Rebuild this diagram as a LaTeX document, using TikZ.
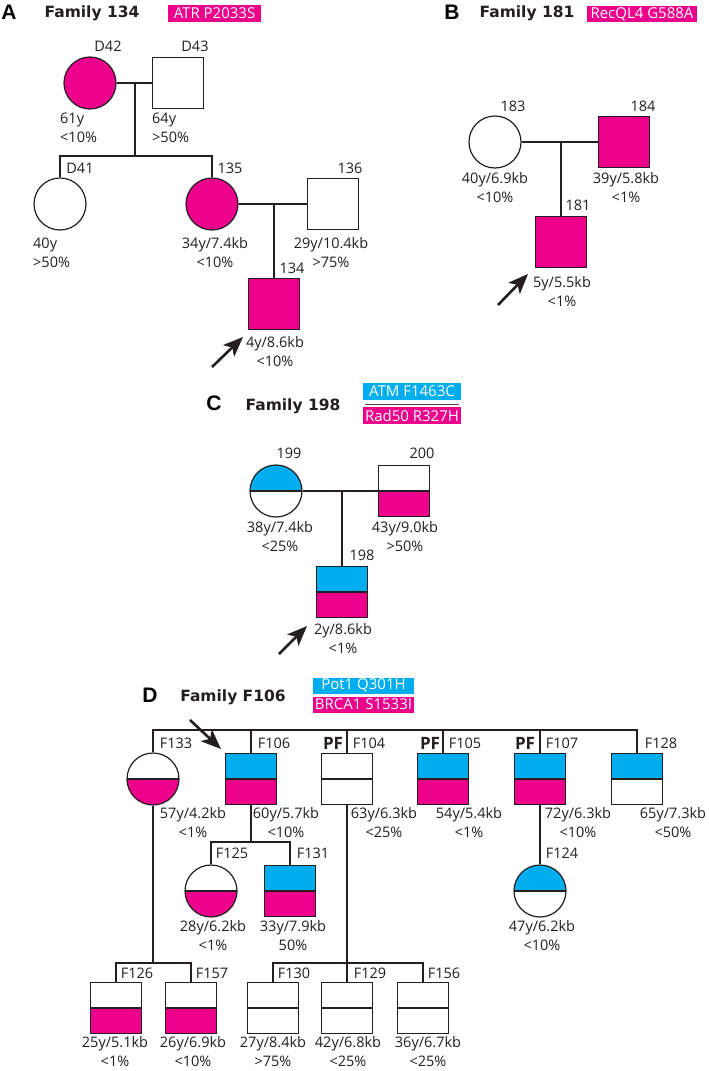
\documentclass[tikz,border=0pt]{standalone}
\usepackage{fontspec}
\setmainfont{Open Sans}
\newfontfamily\titlefont{DejaVu Sans}
\newfontfamily\letterfont{Liberation Sans}
\usetikzlibrary{arrows.meta}
\definecolor{mag}{HTML}{EC008C}
\definecolor{cya}{HTML}{00AEEF}
\definecolor{ink}{HTML}{231F20}
\begin{document}
\begin{tikzpicture}[x=1pt,y=-1pt,
 every node/.style={font=\fontsize{14.5}{19}\selectfont, text=ink, inner sep=0pt},
 conn/.style={draw=ink, line width=2.6pt},
 sqbase/.style={rectangle, draw=ink, line width=1.2pt, minimum size=51pt, fill=white},
 cibase/.style={circle, draw=ink, line width=1.2pt, minimum size=52pt, fill=white},
 full/.style={fill=mag},
 halves/.style 2 args={path picture={
   \fill[#1] (path picture bounding box.north west) rectangle (path picture bounding box.east);
   \fill[#2] (path picture bounding box.west) rectangle (path picture bounding box.south east);
   \draw[ink, line width=1.2pt] (path picture bounding box.west) -- (path picture bounding box.east);}},
 info/.style={align=center},
 infol/.style={align=left, anchor=west},
 pflab/.style={font=\fontsize{17}{17}\selectfont\bfseries},
 panel/.style={font=\fontsize{21}{21}\selectfont\letterfont\bfseries, text=black},
 title/.style={font=\fontsize{15.5}{15.5}\selectfont\titlefont\bfseries, text=ink},
 tag/.style={text=white, font=\fontsize{15}{15}\selectfont},
 proband/.style={draw=ink, line width=2.6pt, -{Stealth[length=20pt, width=16pt, inset=5pt]}}
]
\useasboundingbox[fill=white] (0,0) rectangle (709,1071);

% ---------------- Panel A ----------------
\node[panel] (letA) at (9,12) {A};
\node[title] (titA) at (92,13) {Family 134};
\node[tag, fill=mag, minimum width=93pt, minimum height=17pt] (tagA) at (214.5,13.5) {ATR P2033S};

\node[cibase, full] (D42) at (90,83) {};
\node[sqbase] (D43) at (178,83) {};
\node[cibase] (D41) at (60,204) {};
\node[cibase, full] (P135) at (212,204) {};
\node[sqbase] (P136) at (333,204) {};
\node[sqbase, full] (P134) at (274,304) {};

\node (lD42) at (108,46) {D42};
\node (lD43) at (195,46) {D43};
\node (lD41) at (80,168) {D41};
\node (l135) at (230,168) {135};
\node (l136) at (350,168) {136};
\node (l134) at (292,268) {134};

\node[infol] (iD42) at (60,127.5) {61y\\<10\%};
\node[infol] (iD43) at (152,127.5) {64y\\>50\%};
\node[infol] (iD41) at (33,252.5) {40y\\>50\%};
\node[info] (i135) at (215,252.5) {34y/7.4kb\\<10\%};
\node[info] (i136) at (331,252.5) {29y/10.4kb\\>75\%};
\node[info] (i134) at (275,351.5) {4y/8.6kb\\<10\%};

\coordinate (mA1) at (135,83);
\coordinate (sA1) at (135,156);
\coordinate (mA2) at (274,204);
\draw[conn] (D42) -- (D43);
\draw[conn] (mA1) -- (sA1);
\draw[conn] (D41.north) |- (sA1) -| (P135.north);
\draw[conn] (P135) -- (P136);
\draw[conn] (mA2) -- (P134.north);

\coordinate (aA0) at (212,367);
\coordinate (aA1) at (243,337);
\draw[proband] (aA0) -- (aA1);

% ---------------- Panel B ----------------
\node[panel] (letB) at (452,12) {B};
\node[title] (titB) at (527,13) {Family 181};
\node[tag, fill=mag, minimum width=110pt, minimum height=16pt] (tagB) at (642,14) {RecQL4 G588A};

\node[cibase] (P183) at (495,142) {};
\node[sqbase, full] (P184) at (624,142) {};
\node[sqbase, full] (P181) at (561,242) {};

\node (l183) at (513,106) {183};
\node (l184) at (643,106) {184};
\node (l181) at (578,205) {181};

\node[info] (i183) at (495,188) {40y/6.9kb\\<10\%};
\node[info] (i184) at (626,188) {39y/5.8kb\\<1\%};
\node[info] (i181) at (562,292) {5y/5.5kb\\<1\%};

\coordinate (mB) at (561,142);
\draw[conn] (P183) -- (P184);
\draw[conn] (mB) -- (P181.north);

\coordinate (aB0) at (498,305);
\coordinate (aB1) at (528,274);
\draw[proband] (aB0) -- (aB1);

% ---------------- Panel C ----------------
\node[panel] (letC) at (214,403.5) {C};
\node[title] (titC) at (293,406) {Family 198};
\node[tag, fill=cya, minimum width=98pt, minimum height=17pt] (tagC1) at (412,391.5) {ATM F1463C};
\node[tag, fill=mag, minimum width=98pt, minimum height=17pt] (tagC2) at (412,415.5) {Rad50 R327H};
\coordinate (sepC0) at (365,404.5);
\coordinate (sepC1) at (459,404.5);
\draw[ink!80, line width=1pt] (sepC0) -- (sepC1);

\node[cibase, halves={cya}{white}] (P199) at (276,491) {};
\node[sqbase, halves={white}{mag}] (P200) at (404,491) {};
\node[sqbase, halves={cya}{mag}] (P198) at (342,592) {};

\node (l199) at (289,453) {199};
\node (l200) at (422,453) {200};
\node (l198) at (362,555) {198};

\node[info] (i199) at (280,537) {38y/7.4kb\\<25\%};
\node[info] (i200) at (405,537) {43y/9.0kb\\>50\%};
\node[info] (i198) at (343,638.5) {2y/8.6kb\\<1\%};

\coordinate (mC) at (342,491);
\draw[conn] (P199) -- (P200);
\draw[conn] (mC) -- (P198.north);

\coordinate (aC0) at (279,654);
\coordinate (aC1) at (307,626);
\draw[proband] (aC0) -- (aC1);

% ---------------- Panel D ----------------
\node[panel] (letD) at (150,695) {D};
\node[title] (titD) at (233,697) {Family F106};
\node[tag, fill=cya, minimum width=101pt, minimum height=16pt] (tagD1) at (363.5,685.5) {Pot1 Q301H};
\node[tag, fill=mag, minimum width=101pt, minimum height=16pt] (tagD2) at (363.5,704.5) {BRCA1 S1533I};

\node[cibase, halves={white}{mag}] (F133) at (153,779) {};
\node[sqbase, halves={cya}{mag}] (F106) at (251,779) {};
\node[sqbase, halves={white}{white}] (F104) at (347,779) {};
\node[sqbase, halves={cya}{mag}] (F105) at (443,779) {};
\node[sqbase, halves={cya}{mag}] (F107) at (540,779) {};
\node[sqbase, halves={cya}{white}] (F128) at (637,779) {};

\node[cibase, halves={white}{mag}] (F125) at (211,891) {};
\node[sqbase, halves={cya}{mag}] (F131) at (290,891) {};
\node[cibase, halves={cya}{white}] (F124) at (540,891) {};

\node[sqbase, halves={white}{mag}] (F126) at (116,1008) {};
\node[sqbase, halves={white}{mag}] (F157) at (191,1008) {};
\node[sqbase, halves={white}{white}] (F130) at (273,1008) {};
\node[sqbase, halves={white}{white}] (F129) at (347,1008) {};
\node[sqbase, halves={white}{white}] (F156) at (423,1008) {};

\node (lF133) at (176,743) {F133};
\node (lF106) at (274,743) {F106};
\node[pflab] (pf104) at (333,743) {PF};
\node (lF104) at (369,743) {F104};
\node[pflab] (pf105) at (430,743) {PF};
\node (lF105) at (465,743) {F105};
\node[pflab] (pf107) at (525,743) {PF};
\node (lF107) at (562,743) {F107};
\node (lF128) at (661,743) {F128};
\node (lF125) at (232,853) {F125};
\node (lF131) at (313,853) {F131};
\node (lF124) at (562,853) {F124};
\node (lF126) at (137,973) {F126};
\node (lF157) at (212,973) {F157};
\node (lF130) at (294,973) {F130};
\node (lF129) at (370,973) {F129};
\node (lF156) at (444,973) {F156};

\node[info] (iF133) at (193,823) {57y/4.2kb\\<1\%};
\node[info] (iF106) at (286,823) {60y/5.7kb\\<10\%};
\node[info] (iF104) at (384,823) {63y/6.3kb\\<25\%};
\node[info] (iF105) at (469,823) {54y/5.4kb\\<1\%};
\node[info] (iF107) at (578,823) {72y/6.3kb\\<10\%};
\node[info] (iF128) at (673,823) {65y/7.3kb\\<50\%};
\node[info] (iF125) at (213,936) {28y/6.2kb\\<1\%};
\node[info] (iF131) at (293,936) {33y/7.9kb\\50\%};
\node[info] (iF124) at (542,936) {47y/6.2kb\\<10\%};
\node[info] (iF126) at (115,1052) {25y/5.1kb\\<1\%};
\node[info] (iF157) at (193,1052) {26y/6.9kb\\<10\%};
\node[info] (iF130) at (273,1052) {27y/8.4kb\\>75\%};
\node[info] (iF129) at (348,1052) {42y/6.8kb\\<25\%};
\node[info] (iF156) at (428,1052) {36y/6.7kb\\<25\%};

\coordinate (tD) at (395,730);
\coordinate (sD1) at (153,963);
\coordinate (sD2) at (251,842);
\coordinate (sD3) at (347,963);
\draw[conn] (F133.north) |- (tD) -| (F128.north);
\draw[conn] (F106.north) -- (F106.north |- tD);
\draw[conn] (F104.north) -- (F104.north |- tD);
\draw[conn] (F105.north) -- (F105.north |- tD);
\draw[conn] (F107.north) -- (F107.north |- tD);
\draw[conn] (F133.south) -- (sD1);
\draw[conn] (F126.north) |- (sD1) -| (F157.north);
\draw[conn] (F106.south) -- (sD2);
\draw[conn] (F125.north) |- (sD2) -| (F131.north);
\draw[conn] (F104.south) -- (sD3);
\draw[conn] (F130.north) |- (sD3) -| (F156.north);
\draw[conn] (sD3) -- (F129.north);
\draw[conn] (F107.south) -- (F124.north);

\coordinate (aD0) at (190,720);
\coordinate (aD1) at (221,749);
\draw[proband] (aD0) -- (aD1);
\end{tikzpicture}
\end{document}
